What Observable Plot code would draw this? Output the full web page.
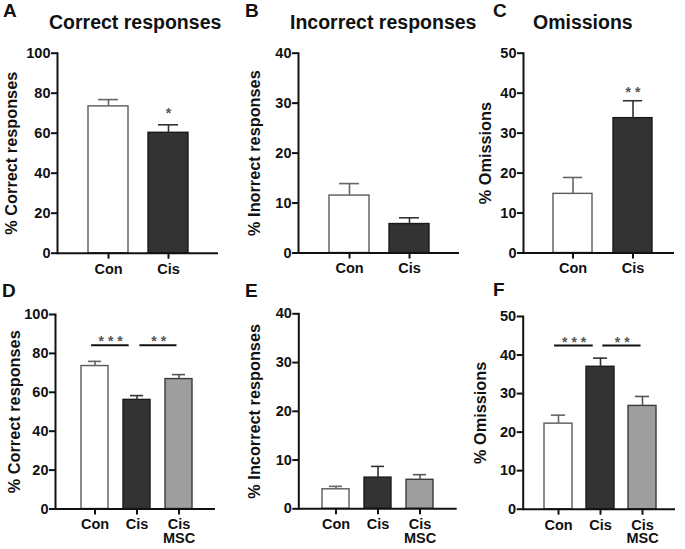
<!DOCTYPE html>
<html><head><meta charset="utf-8">
<script src="https://cdn.jsdelivr.net/npm/d3@7"></script>
<script src="https://cdn.jsdelivr.net/npm/@observablehq/plot@0.6"></script>
<style>
body{margin:0;background:#fff;}
#fig{position:relative;width:685px;height:549px;overflow:hidden;font-family:"Liberation Sans",Arial,sans-serif;font-weight:bold;color:#111;background:#fff;}
.panel{position:absolute;}
.txt{position:absolute;white-space:nowrap;}
</style></head><body><div id="fig"></div>
<script>
// ---- data ----
const groupsTop = ["Con", "Cis"];
const groupsBottom = ["Con", "Cis", "Cis MSC"];
const tickLabels = {"Con": "Con", "Cis": "Cis", "Cis MSC": "Cis\nMSC"};

const correctTopMean = [73.4, 60.2];
const correctTopSem = [3.4, 4.0];
const incorrectTopMean = [11.5, 5.8];
const incorrectTopSem = [2.4, 1.25];
const omissionTopMean = [14.8, 33.75];
const omissionTopSem = [4.1, 4.35];

const correctBottomMean = [73.5, 56.1, 66.8];
const correctBottomSem = [2.4, 2.2, 2.3];
const incorrectBottomMean = [4.0, 6.4, 5.95];
const incorrectBottomSem = [0.6, 2.3, 1.05];
const omissionBottomMean = [22.2, 36.95, 26.8];
const omissionBottomSem = [2.2, 2.25, 2.45];

const ticks100 = [0, 20, 40, 60, 80, 100];
const ticks40 = [0, 10, 20, 30, 40];
const ticks50 = [0, 10, 20, 30, 40, 50];

const letters = ["A", "B", "C", "D", "E", "F"];
const titles = ["Correct responses", "Incorrect responses", "Omissions"];
const yLabels = ["% Correct responses", "% Inorrect responses", "% Omissions",
                 "% Correct responses", "% Incorrect responses", "% Omissions"];

// significance annotations
const starsA = [{g: "Cis", y: 71.8, s: "*"}];
const starsC = [{g: "Cis", y: 41.0, s: "* *"}];
const sigD = [{from: "Con", to: "Cis", y: 84.2, ys: 88.2, s: "* * *"},
              {from: "Cis", to: "Cis MSC", y: 84.2, ys: 88.2, s: "* *"}];
const sigF = [{from: "Con", to: "Cis", y: 42.5, ys: 44.3, s: "* * *"},
              {from: "Cis", to: "Cis MSC", y: 42.5, ys: 44.3, s: "* *"}];

// ---- styles ----
const fills = {"Con": "#ffffff", "Cis": "#333333", "Cis MSC": "#9e9e9e"};
const strokes = {"Con": "#5a5a5a", "Cis": "#1a1a1a", "Cis MSC": "#3a3a3a"};
const errStrokes = {"Con": "#666666", "Cis": "#333333", "Cis MSC": "#555555"};

const panels = [
  {groups: groupsTop, mean: correctTopMean, sem: correctTopSem, max: 100, ticks: ticks100,
   left: 0, top: 40, width: 228, height: 245, ml: 57, mr: 10, mt: 12.7, mb: 32.3,
   pi: 0.333, po: 0.508, align: 0.508, labelDx: -45.5, stars: starsA},
  {groups: groupsTop, mean: incorrectTopMean, sem: incorrectTopSem, max: 40, ticks: ticks40,
   left: 228, top: 40, width: 235, height: 245, ml: 70, mr: 4, mt: 12.7, mb: 32.5,
   pi: 0.333, po: 0.508, align: 0.508, labelDx: -44},
  {groups: groupsTop, mean: omissionTopMean, sem: omissionTopSem, max: 50, ticks: ticks50,
   left: 456, top: 40, width: 229, height: 245, ml: 67, mr: 11, mt: 12.7, mb: 32.5,
   pi: 0.342, po: 0.429, align: 0.578, labelDx: -37.4, stars: starsC},
  {groups: groupsBottom, mean: correctBottomMean, sem: correctBottomSem, max: 100, ticks: ticks100,
   left: 0, top: 300, width: 228, height: 249, ml: 55, mr: 13, mt: 14, mb: 40.5,
   pi: 0.353, po: 0.537, align: 0.541, labelDx: -40.5, sig: sigD},
  {groups: groupsBottom, mean: incorrectBottomMean, sem: incorrectBottomSem, max: 40, ticks: ticks40,
   left: 228, top: 300, width: 235, height: 249, ml: 70.3, mr: 6.3, mt: 13.3, mb: 40.7,
   pi: 0.349, po: 0.529, align: 0.502, labelDx: -44},
  {groups: groupsBottom, mean: omissionBottomMean, sem: omissionBottomSem, max: 50, ticks: ticks50,
   left: 456, top: 300, width: 229, height: 249, ml: 66.7, mr: 10, mt: 16, mb: 40.3,
   pi: 0.340, po: 0.483, align: 0.532, labelDx: -42, sig: sigF}
];

const fig = document.getElementById("fig");

panels.forEach((p, k) => {
  const data = p.groups.map((g, i) => ({g, v: p.mean[i], e: p.mean[i] + p.sem[i]}));
  const frameW = p.width - p.ml - p.mr;
  const step = frameW / (p.groups.length - p.pi + 2 * p.po);
  const bw = step * (1 - p.pi);
  const marks = [
    Plot.barY(data, {x: "g", y: "v", fill: d => fills[d.g], stroke: d => strokes[d.g], strokeWidth: 1.4}),
    Plot.ruleX(data, {x: "g", y1: "v", y2: "e", stroke: d => errStrokes[d.g], strokeWidth: 1.6}),
    Plot.tickY(data, {x: "g", y: "e", stroke: d => errStrokes[d.g], strokeWidth: 1.6, insetLeft: bw / 4, insetRight: bw / 4}),
    Plot.ruleY([0], {stroke: "#111", strokeWidth: 2}),
    Plot.frame({anchor: "left", stroke: "#111", strokeWidth: 2}),
    Plot.axisY({ticks: p.ticks, tickSize: 6, tickPadding: 1, strokeWidth: 2, label: null, tickFormat: d => String(d), fill: "#111"}),
    Plot.axisX({tickSize: 6, tickPadding: 5, strokeWidth: 2, label: null, tickFormat: g => tickLabels[g], lineHeight: 0.92, fill: "#111"}),
    Plot.text([yLabels[k]], {frameAnchor: "left", textAnchor: "middle", lineAnchor: "middle", dx: p.labelDx, rotate: -90, fontSize: 16.3, fontWeight: "bold", fill: "#111"})
  ];
  if (p.stars) {
    marks.push(Plot.text(p.stars, {x: "g", y: "y", text: "s", fontSize: 14, fill: "#555", lineAnchor: "middle", dy: 3.6}));
  }
  if (p.sig) {
    // ruleY with band x1/x2 spans from start of first band to end of second band
    marks.push(Plot.ruleY(p.sig.slice(0, 1), {x1: "from", x2: "to", y: "y", stroke: "#111", strokeWidth: 2, insetLeft: bw / 2 - 3.8, insetRight: bw / 2 + 7.4}));
    marks.push(Plot.ruleY(p.sig.slice(1), {x1: "from", x2: "to", y: "y", stroke: "#111", strokeWidth: 2, insetLeft: bw / 2 + 2.5, insetRight: bw / 2 + 1.6}));
    marks.push(Plot.text(p.sig.slice(0, 1), {x: "from", y: "ys", text: "s", dx: 15.6, fontSize: 14, fill: "#555", lineAnchor: "middle", dy: 3.6}));
    marks.push(Plot.text(p.sig.slice(1), {x: "from", y: "ys", text: "s", dx: 21.7, fontSize: 14, fill: "#555", lineAnchor: "middle", dy: 3.6}));
  }
  const svg = Plot.plot({
    width: p.width, height: p.height,
    marginLeft: p.ml, marginRight: p.mr, marginTop: p.mt, marginBottom: p.mb,
    x: {type: "band", domain: p.groups, paddingInner: p.pi, paddingOuter: p.po, align: p.align},
    y: {domain: [0, p.max], nice: false},
    style: {background: "transparent", fontFamily: "'Liberation Sans', Arial, sans-serif", fontWeight: "bold", fontSize: "14.5px", color: "#111", overflow: "visible"},
    marks
  });
  const div = document.createElement("div");
  div.className = "panel";
  div.style.left = p.left + "px";
  div.style.top = p.top + "px";
  div.style.width = p.width + "px";
  div.style.height = p.height + "px";
  div.appendChild(svg);
  fig.appendChild(div);
});

function addText(str, left, baseline, size) {
  const d = document.createElement("div");
  d.className = "txt";
  d.textContent = str;
  d.style.fontSize = size + "px";
  d.style.lineHeight = size + "px";
  d.style.left = left + "px";
  d.style.top = (baseline - 0.8465 * size) + "px";
  fig.appendChild(d);
}
const letterPos = [[3, 16.7], [245, 17], [493, 17], [2, 297], [245, 297], [493, 296]];
letters.forEach((l, i) => addText(l, letterPos[i][0], letterPos[i][1], 19));
const titlePos = [[49, 30], [290, 30], [533, 30]];
titles.forEach((t, i) => addText(t, titlePos[i][0], titlePos[i][1], 19.5));
</script>
</body></html>
